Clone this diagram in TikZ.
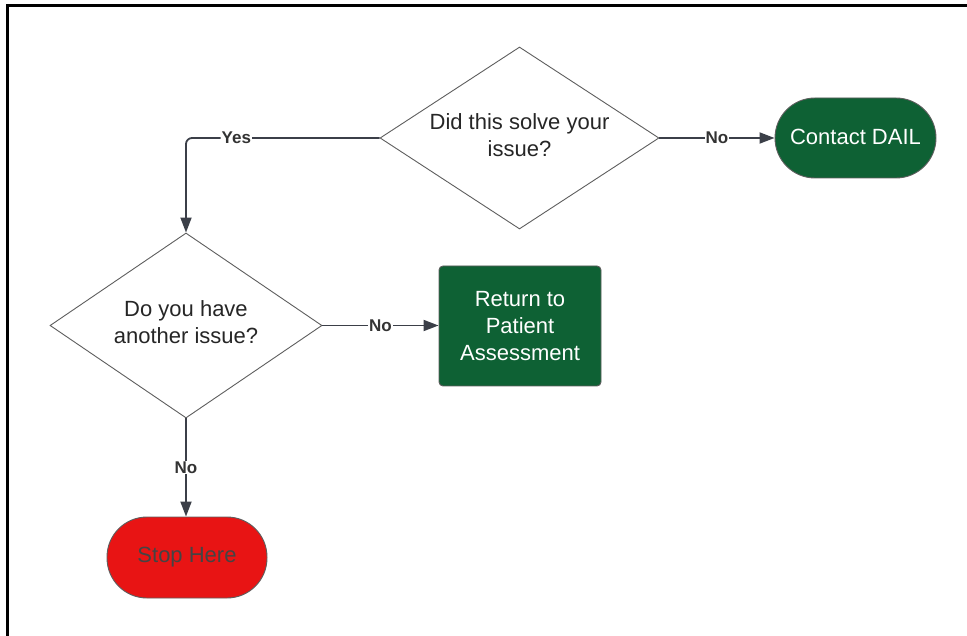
\documentclass[tikz,border=0pt]{standalone}
\usepackage{fontspec}
\setmainfont{Liberation Sans}
\usetikzlibrary{shapes.geometric,arrows.meta}
\definecolor{dgreen}{HTML}{0E6134}
\definecolor{sred}{HTML}{E81414}
\definecolor{conncol}{HTML}{3B3F48}
\definecolor{edgecol}{HTML}{5E5E5E}
\definecolor{lblcol}{HTML}{333333}
\definecolor{stoptext}{HTML}{444444}
\tikzset{
  decision/.style={diamond, draw=edgecol, line width=0.9pt, fill=white, inner sep=0pt},
  dtext/.style={align=center, font=\fontsize{22}{27}\selectfont, text=black!85, yshift=3pt},
  terminal/.style={draw=edgecol, line width=0.9pt, rounded corners=40pt, inner sep=0pt, align=center, font=\fontsize{22}{27}\selectfont},
  procbox/.style={draw=edgecol, line width=0.9pt, rounded corners=4pt, inner sep=0pt, align=center, font=\fontsize{22}{27}\selectfont},
  conn/.style={draw=conncol, line width=1.8pt, -{Triangle[length=15pt,width=11pt]}},
  lbl/.style={fill=white, inner sep=1pt, font=\fontsize{17}{20}\selectfont\bfseries, text=lblcol},
}
\begin{document}
\begin{tikzpicture}[x=1pt,y=-1pt]
\useasboundingbox (0,0) rectangle (967,636);
% frame
\draw[line width=3pt, line cap=rect] (7,636) -- (7,6) -- (967,6);
% nodes
\node[decision, minimum width=279pt, minimum height=182pt, label={[dtext]center:Did this solve your\\issue?}] (d1) at (519.5,138) {};
\node[terminal, fill=dgreen, text=white, minimum width=161pt, minimum height=80pt] (contact) at (855.5,138) {\raisebox{1.5pt}{Contact DAIL}};
\node[decision, minimum width=272pt, minimum height=185pt, label={[dtext]center:Do you have\\another issue?}] (d2) at (186,325.5) {};
\node[procbox, fill=dgreen, text=white, minimum width=162pt, minimum height=120pt] (ret) at (520,326) {Return to\\Patient\\Assessment};
\node[terminal, fill=sred, text=stoptext, minimum width=160pt, minimum height=81pt] (stop) at (187,557.5) {Stop Here};
% connectors
\draw[conn, rounded corners=6pt] (d1.west) -- node[lbl, pos=0.74]{Yes} (d2.north |- d1.west) -- (d2.north);
\draw[conn] (d1.east) -- node[lbl]{No} (contact.west);
\draw[conn] (d2.east) -- node[lbl]{No} (ret.west |- d2.east);
\draw[conn] (d2.south) -- node[lbl]{No} (stop.north -| d2.south);
\end{tikzpicture}
\end{document}
